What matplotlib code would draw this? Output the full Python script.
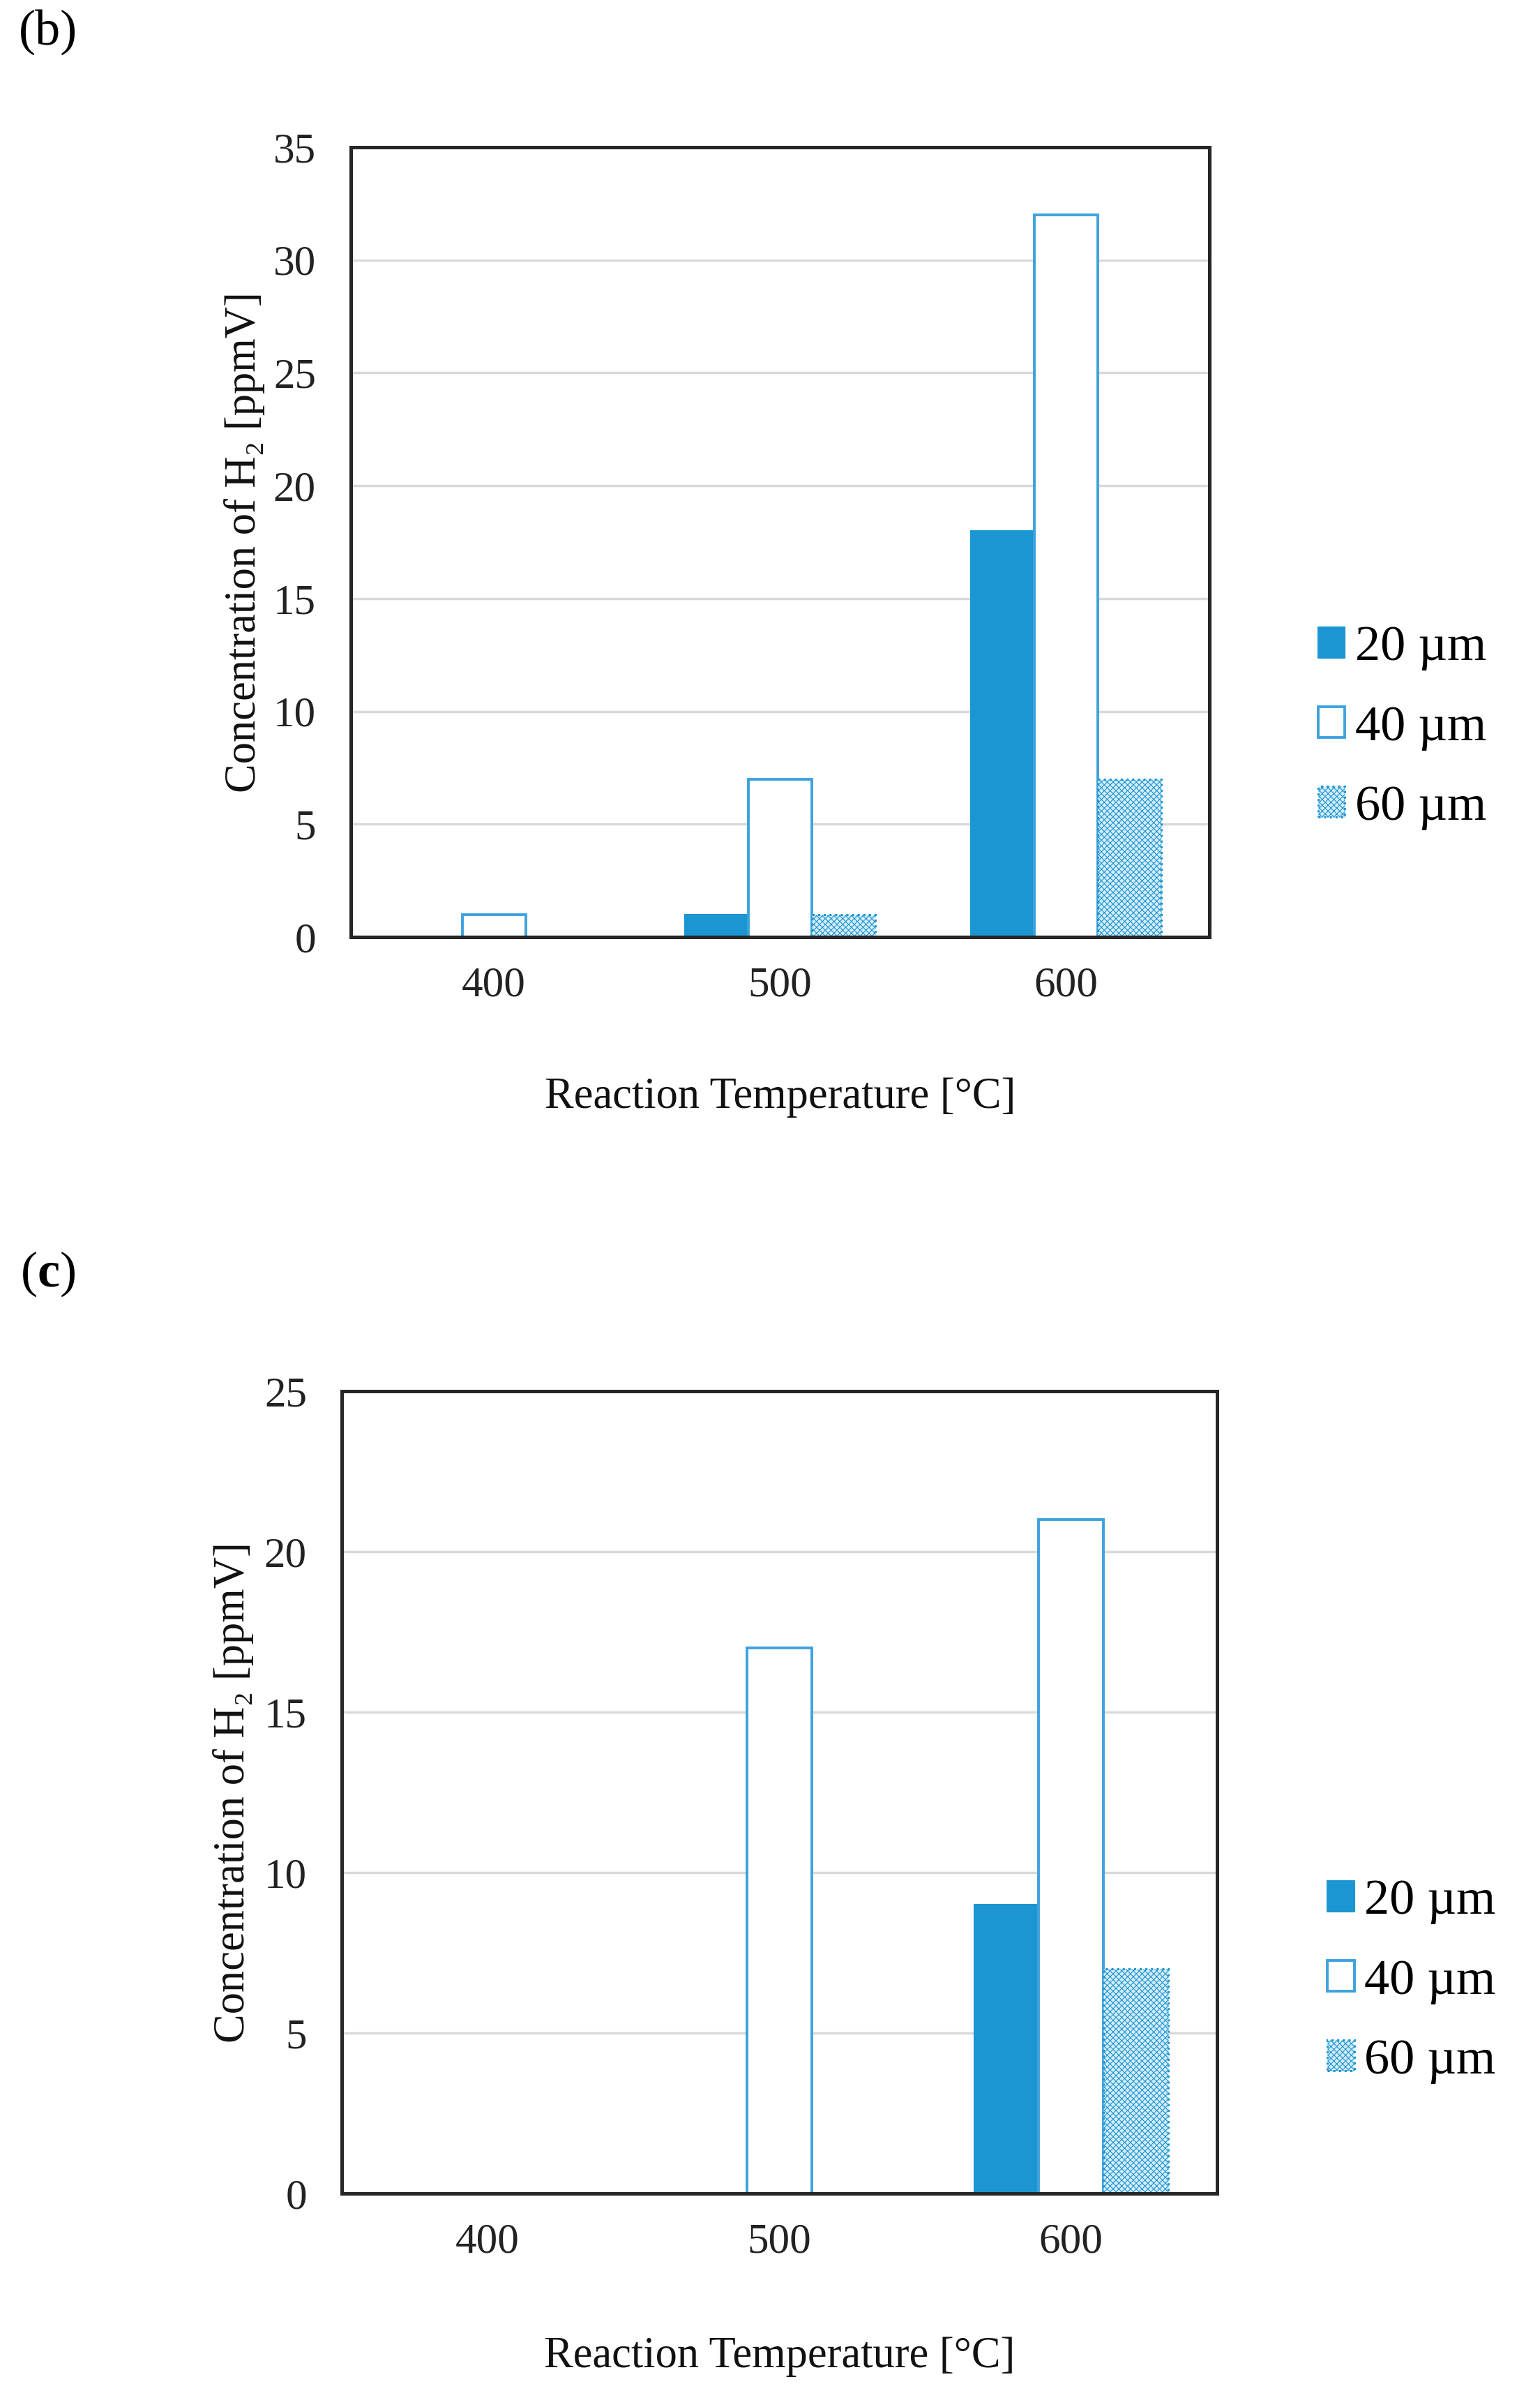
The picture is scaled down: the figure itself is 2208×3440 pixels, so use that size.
import matplotlib
matplotlib.use("Agg")
import matplotlib.pyplot as plt
import numpy as np

plt.rcParams['font.family'] = ['Liberation Serif', 'DejaVu Serif']
plt.rcParams['hatch.linewidth'] = 0.8
plt.rcParams['mathtext.fontset'] = 'custom'
plt.rcParams['mathtext.rm'] = 'Liberation Serif'
plt.rcParams['mathtext.bf'] = 'Liberation Serif:bold'

# ---- data ----
categories = ["400", "500", "600"]
series_labels = ["20 \u00b5m", "40 \u00b5m", "60 \u00b5m"]

b_20um = [0, 1, 18]
b_40um = [1, 7, 32]
b_60um = [0, 1, 7]

c_20um = [0, 0, 9]
c_40um = [0, 17, 21]
c_60um = [0, 0, 7]

xlabel = "Reaction Temperature [\u00b0C]"
ylabel = "Concentration of H\u2082 [ppmV]"

BLUE = '#1B96D3'
EDGE = '#3DA2DE'

fig = plt.figure(figsize=(22.08, 34.40), dpi=100)


def panel(rect, s20, s40, s60, ymax, legend_anchor):
    ax = fig.add_axes(rect)
    x = np.arange(len(categories))
    w = 0.222
    h1 = ax.bar(x - w, s20, w, color=BLUE, edgecolor=BLUE, linewidth=1.5,
                label=series_labels[0], zorder=2)
    h2 = ax.bar(x, s40, w, facecolor='white', edgecolor=EDGE, linewidth=2.8,
                label=series_labels[1], zorder=2)
    h3 = ax.bar(x + w, s60, w, facecolor='#D5ECFA', edgecolor=BLUE,
                linewidth=2.2, linestyle=':', hatch='xxxx',
                label=series_labels[2], zorder=2)
    ax.set_xlim(-0.5, len(categories) - 0.5)
    ax.set_ylim(0, ymax)
    ax.set_yticks(np.arange(0, ymax + 1, 5))
    ax.set_xticks(x)
    ax.set_xticklabels(categories)
    ax.yaxis.grid(True, color='#D9D9D9', linewidth=2.5)
    ax.set_axisbelow(True)
    for sp in ax.spines.values():
        sp.set_color('#262626')
        sp.set_linewidth(3.6)
        sp.set_zorder(3)
    ax.tick_params(axis='both', length=0, labelsize=44, colors='#222222')
    ax.tick_params(axis='y', pad=36)
    ax.tick_params(axis='x', pad=30)
    ax.set_xlabel(xlabel, fontsize=45, color='#111111')
    ax.set_ylabel(ylabel, fontsize=45, color='#111111')
    ax.xaxis.set_label_coords(0.5, -0.178)
    ax.yaxis.set_label_coords(-0.100, 0.5)
    fig.legend(handles=[h1, h2, h3], loc='center left',
               bbox_to_anchor=legend_anchor, frameon=False, fontsize=52,
               handlelength=0.53, handleheight=0.57, handletextpad=0.2,
               labelspacing=0.68, borderpad=0, borderaxespad=0)
    return ax


panel([0.2278, 0.6096, 0.5575, 0.3291], b_20um, b_40um, b_60um, 35,
      (0.856, 0.6968))
panel([0.2219, 0.0860, 0.5684, 0.3343], c_20um, c_40um, c_60um, 25,
      (0.862, 0.1744))

fig.text(0.0122, 0.9962, "(b)", fontsize=52, va='top', ha='left')
fig.text(0.0130, 0.4794, r"($\mathbf{c}$)", fontsize=52, va='top', ha='left')

fig.savefig("out.png", dpi=100)
